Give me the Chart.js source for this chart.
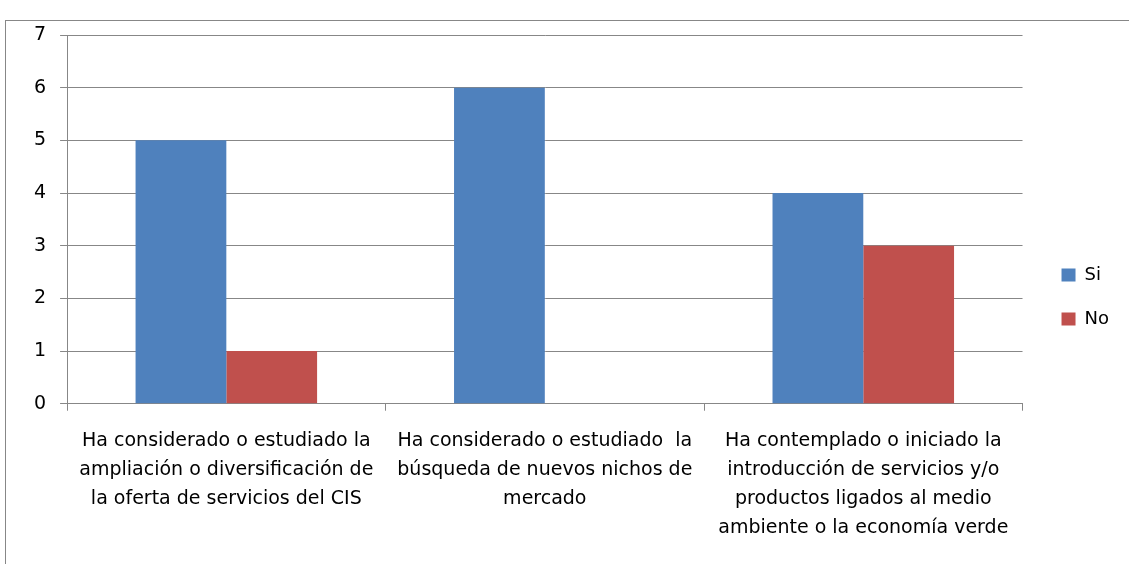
<!DOCTYPE html>
<html>
<head>
<meta charset="utf-8">
<script src="https://cdn.jsdelivr.net/npm/chart.js@4"></script>
<style>
  html, body { margin: 0; padding: 0; background: #fff; }
  #wrap { width: 1129px; height: 564px; position: relative; }
</style>
</head>
<body>
<div id="wrap"><canvas id="encuestaChart" width="1129" height="564"></canvas></div>
<script>
// Datos
const categorias = [
    ['Ha considerado o estudiado la', 'ampliación o diversificación de', 'la oferta de servicios del CIS'],
    ['Ha considerado o estudiado  la', 'búsqueda de nuevos nichos de', 'mercado'],
    ['Ha contemplado o iniciado la', 'introducción de servicios y/o', 'productos ligados al medio', 'ambiente o la economía verde']
];
const valoresSi = [5, 6, 4];
const valoresNo = [1, 0, 3];
const ticksY = [0, 1, 2, 3, 4, 5, 6, 7];

const fuente = "'DejaVu Sans', sans-serif";
const gris = '#878787';

// marco gris alrededor del gráfico
const marco = {
    id: 'marco',
    afterDraw(chart) {
        const c = chart.ctx;
        c.save();
        c.strokeStyle = gris;
        c.lineWidth = 1;
        c.strokeRect(5.5, 20.5, 1140, 600);
        c.restore();
    }
};

const ctx = document.getElementById('encuestaChart').getContext('2d');
new Chart(ctx, {
    type: 'bar',
    data: {
        labels: categorias,
        datasets: [
            { label: 'Si', data: valoresSi, backgroundColor: '#4F81BD', borderWidth: 0 },
            { label: 'No', data: valoresNo, backgroundColor: '#C0504D', borderWidth: 0 }
        ]
    },
    options: {
        responsive: false,
        animation: false,
        categoryPercentage: 0.57,
        barPercentage: 1,
        layout: { padding: { left: 20, top: 35, right: 10, bottom: 5 } },
        plugins: {
            legend: {
                position: 'right',
                labels: {
                    boxWidth: 14,
                    boxHeight: 13,
                    padding: 26,
                    color: '#000',
                    font: { family: fuente, size: 18 }
                }
            },
            tooltip: { enabled: false }
        },
        scales: {
            x: {
                grid: {
                    offset: true,
                    drawOnChartArea: false,
                    drawTicks: true,
                    tickLength: 7,
                    color: gris
                },
                border: { color: gris, width: 1 },
                ticks: {
                    color: '#000',
                    padding: 16,
                    maxRotation: 0,
                    autoSkip: false,
                    font: { family: fuente, size: 19, lineHeight: 1.53 }
                }
            },
            y: {
                min: 0,
                max: 7,
                afterBuildTicks(axis) { axis.ticks = ticksY.map(v => ({ value: v })); },
                grid: { color: gris, tickLength: 7 },
                border: { color: gris, width: 1 },
                ticks: {
                    color: '#000',
                    padding: 14,
                    font: { family: fuente, size: 19 }
                }
            },
            // eje vacío para separar la leyenda del área de trazado
            hueco: {
                position: 'right',
                display: true,
                grid: { display: false },
                border: { display: false },
                ticks: { display: false },
                afterFit(scale) { scale.width = 13; }
            }
        }
    },
    plugins: [marco]
});
</script>
</body>
</html>
